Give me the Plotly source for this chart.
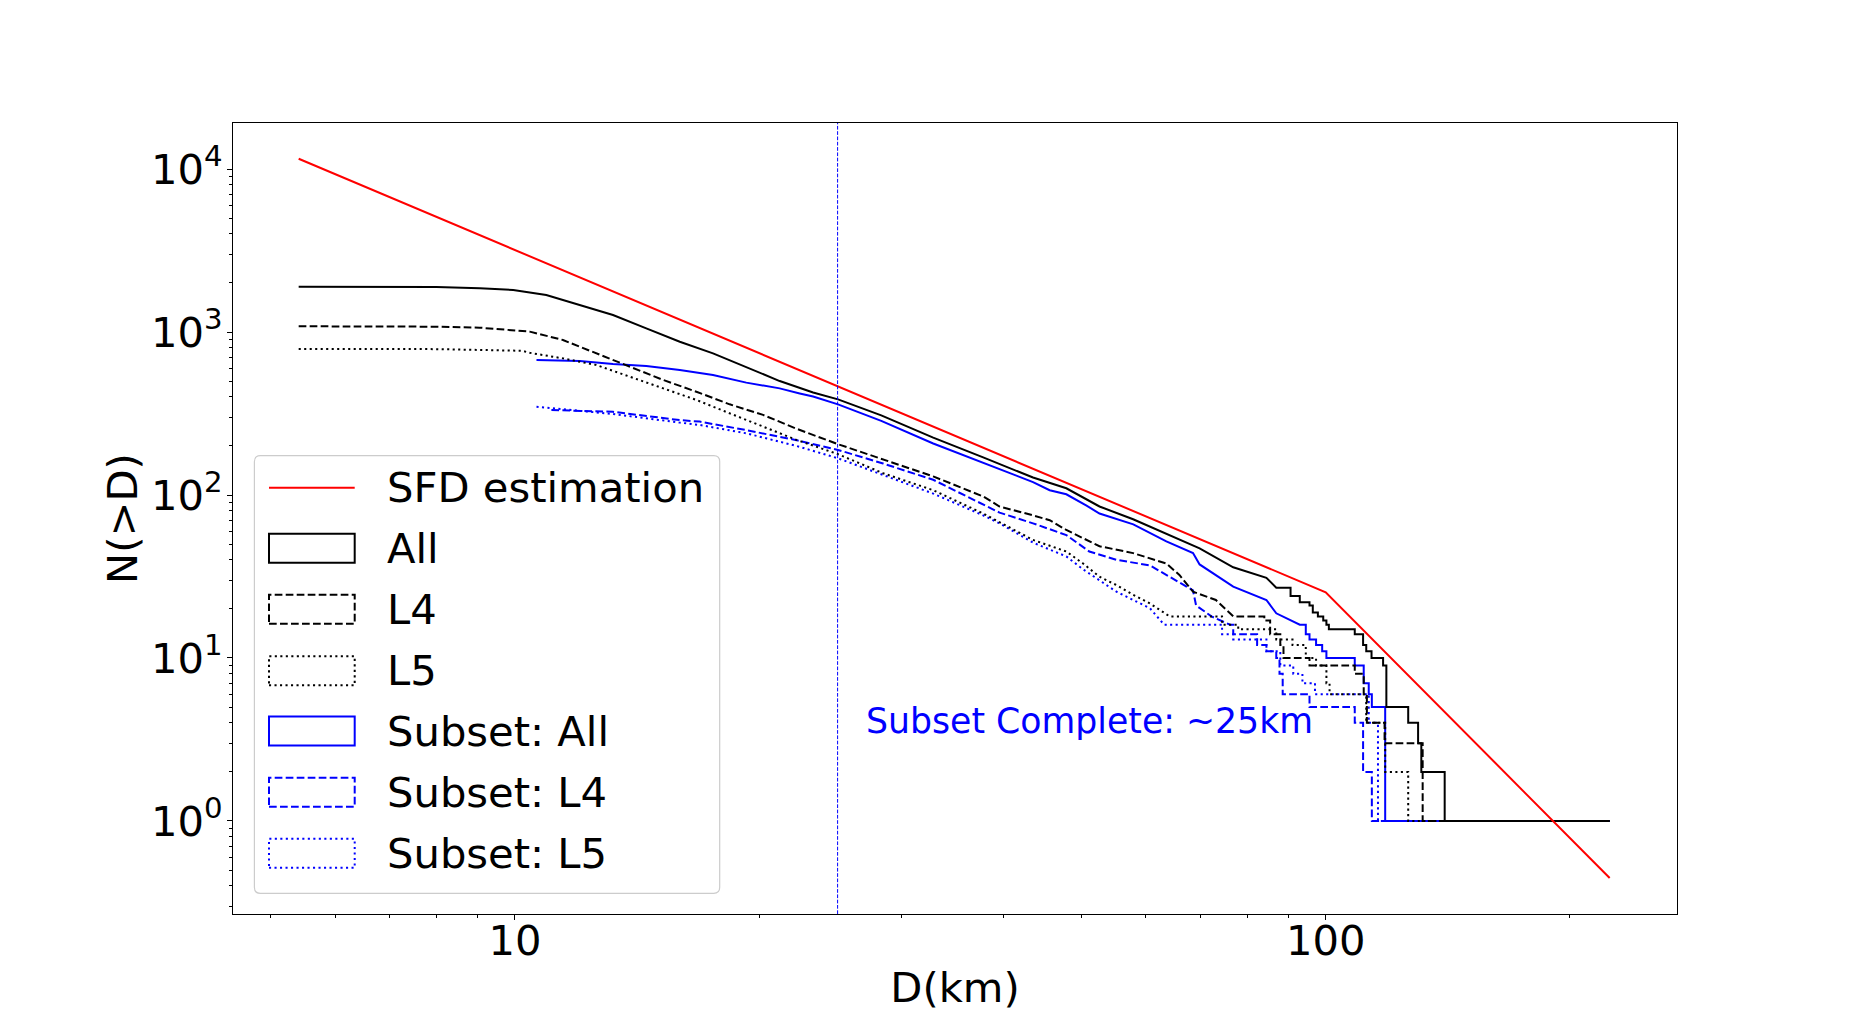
import numpy as np
import plotly.graph_objects as go

# SFD estimation (broken power law)
sfd_d = [5.41, 100, 224]
sfd_n = [11560, 25.3, 0.447]

# cumulative counts N(>D), step corners
all_d = [5.41, 8.0, 9.05, 9.95, 10.93, 12.02, 13.21, 14.52, 15.97, 17.55, 19.29, 21.21, 23.32,
         25.03, 28.3, 32.8, 37.8, 43.55, 47.87, 52.6, 57.87, 63.6, 69.9, 76.9, 84.5, 86.9,
         90.5, 90.5, 92.9, 92.9, 95.5, 95.5, 96.4, 96.4, 97.8, 97.8, 99.3, 99.3, 100.2, 100.2,
         100.9, 100.9, 108.6, 108.6, 111.2, 111.2, 112.2, 112.2, 113.9, 113.9, 117.7, 117.7,
         118.8, 118.8, 126.4, 126.4, 130, 130, 131.2, 131.2, 140.2, 140.2, 224]
all_n = [1898, 1890, 1853, 1811, 1687, 1464, 1272, 1053, 872, 740, 608, 500, 425,
         386, 308, 225, 170, 128, 110, 85, 71, 58, 47, 36, 31, 27,
         27, 24, 24, 22, 22, 21, 21, 19, 19, 18, 18, 17, 17, 16,
         16, 15, 15, 14, 14, 12, 12, 11, 11, 10, 10, 9,
         9, 5, 5, 4, 4, 3, 3, 2, 2, 1, 1]

l4_d = [5.41, 8.0, 9.05, 10.43, 11.46, 12.6, 13.85, 15.23, 16.74, 18.4, 20.23, 22.24, 25.03,
        28.45, 32.8, 37.8, 39.6, 43.55, 45.66, 47.87, 52.6, 57.87, 63.6, 66.0, 68.6, 73.2,
        76.9, 84.0, 84.0, 85.4, 85.4, 87.9, 87.9, 88.7, 88.7, 95.5, 95.5, 108.6, 108.6,
        111.4, 111.4, 112.4, 112.4, 118.2, 118.2, 131.7, 131.7, 224]
l4_n = [1084, 1078, 1063, 1005, 893, 740, 613, 508, 430, 360, 310, 255, 205,
        165, 130, 98, 85, 75, 70, 61, 48.5, 44, 38, 32.3, 25.5, 22.7,
        18, 18, 17, 17, 14, 14, 12, 12, 10, 10, 9, 9, 8,
        8, 6, 6, 4, 4, 3, 3, 1, 1]

l5_d = [5.41, 8.0, 9.05, 10.2, 10.43, 11.46, 12.6, 13.85, 15.23, 16.74, 18.4, 20.23, 22.24,
        25.03, 28.45, 32.8, 37.8, 43.55, 47.87, 50.2, 52.6, 55.2, 57.87, 60.7, 64.2,
        74.5, 74.5, 78.0, 78.0, 86.9, 86.9, 91.0, 91.0, 94.5, 94.5, 97.3, 97.3, 100.2, 100.2,
        101.1, 101.1, 112.2, 112.2, 118.4, 118.4, 126.4, 126.4, 224]
l5_n = [787, 785, 776, 767, 745, 689, 627, 532, 451, 383, 317, 263, 218,
        178, 136, 107, 77, 53, 45, 38, 31.5, 28, 24.4, 21.6, 18,
        18, 16, 16, 15, 15, 13, 13, 12, 12, 10, 10, 9, 9, 7,
        7, 6, 6, 4, 4, 2, 2, 1, 1]

sub_all_d = [10.63, 12.02, 13.21, 14.52, 15.97, 16.9, 17.55, 19.29, 21.21, 22.45, 23.32, 25.03,
             28.3, 32.8, 37.8, 43.55, 45.66, 47.87, 50.7, 52.6, 57.9, 63.6, 68.6, 69.9, 76.9,
             84.5, 86.9, 92.9, 94.5, 94.5, 95.5, 95.5, 97.3, 97.3, 99.0, 99.0, 100.2, 100.2,
             108.6, 108.6, 111.4, 111.4, 113.0, 113.0, 114.0, 114.0, 118.4, 118.4, 224]
sub_all_n = [673, 664, 636, 618, 585, 558, 545, 489, 451, 420, 402, 360,
             285, 207, 158, 120, 107, 101, 86, 77, 66, 52, 44, 37.5, 27.4,
             22.7, 18.8, 16, 16, 14, 14, 13, 13, 12, 12, 11, 11, 10,
             10, 9, 9, 7, 7, 6, 6, 5, 5, 1, 1]

sub_l4_d = [11.09, 13.21, 15.97, 16.9, 19.29, 22.24, 25.03, 28.45, 32.8, 37.8, 39.6, 43.55,
            47.87, 51.1, 55.2, 60.7, 65.2, 68.6, 69.2, 72.3, 76.2,
            76.9, 76.9, 82.3, 82.3, 84.5, 84.5, 86.9, 86.9, 87.7, 87.7, 88.5, 88.5, 95.5, 95.5,
            108.6, 108.6, 111.2, 111.2, 114.0, 114.0, 224]
sub_l4_n = [332, 324, 288, 282, 250, 217, 189, 156, 124, 88, 78, 67,
            56.8, 45, 40, 37, 30, 26, 21, 18, 16,
            16, 14, 14, 12, 12, 11, 11, 10, 10, 8, 8, 6, 6, 5,
            5, 4, 4, 2, 2, 1, 1]

sub_l5_d = [10.63, 13.21, 15.97, 16.9, 19.29, 22.24, 25.03, 28.45, 32.8, 37.8, 39.6, 43.55,
            47.87, 50.2, 52.6, 55.2, 57.87, 60.7, 63.2,
            74.5, 74.5, 76.9, 76.9, 84.5, 84.5, 87.9, 87.9, 91.2, 91.2, 93.6, 93.6, 97.0, 97.0,
            113.0, 113.0, 116.0, 116.0, 224]
sub_l5_n = [348, 314, 278, 269, 239, 200, 168, 133, 102, 75, 67, 51,
            42, 35, 30, 25.5, 22.7, 20.2, 16,
            16, 14, 14, 13, 13, 11, 11, 9, 9, 8, 8, 7, 7, 6,
            6, 4, 4, 1, 1]

complete_d = 25
complete_label = "Subset Complete: ~25km"

FONT = "DejaVu Sans"
BIG = 41.7
DASH = "7.7px,3.3px"
DOT = "2.1px,3.4px"

# legend order
series = [
    ("All", all_d, all_n, "black", "solid"),
    ("L4", l4_d, l4_n, "black", DASH),
    ("L5", l5_d, l5_n, "black", DOT),
    ("Subset: All", sub_all_d, sub_all_n, "blue", "solid"),
    ("Subset: L4", sub_l4_d, sub_l4_n, "blue", DASH),
    ("Subset: L5", sub_l5_d, sub_l5_n, "blue", DOT),
]

fig = go.Figure()
# draw subsets first so the full-sample curves sit on top
for name, d, n, col, dash in series[::-1]:
    fig.add_trace(go.Scatter(x=d, y=n, mode="lines", name=name,
                             line=dict(color=col, width=2, dash=dash), showlegend=False))
fig.add_trace(go.Scatter(x=sfd_d, y=sfd_n, mode="lines", name="SFD estimation",
                         line=dict(color="red", width=2), showlegend=False))

# completeness limit
fig.add_shape(type="line", xref="x", yref="paper", x0=complete_d, x1=complete_d, y0=0, y1=1,
              line=dict(color="blue", width=1, dash="3.7px,1.6px"))
fig.add_annotation(x=np.log10(97), y=np.log10(4.1), xref="x", yref="y", text=complete_label,
                   showarrow=False, xanchor="right", yanchor="middle",
                   font=dict(family=FONT, size=34.7, color="blue"))

# hand-drawn legend, matplotlib style (pixel geometry -> paper coords)
L, T, W, H = 233.3, 123.0, 1444.0, 791.0
def px(x):
    return (x - L) / W
def py(y):
    return (T + H - y) / H

bx0, bx1, by0, by1 = px(254.7), px(720), py(893.3), py(455.7)
rx, ry = 6 / W, 6 / H
path = (f"M{bx0+rx},{by1} L{bx1-rx},{by1} Q{bx1},{by1} {bx1},{by1-ry} "
        f"L{bx1},{by0+ry} Q{bx1},{by0} {bx1-rx},{by0} L{bx0+rx},{by0} "
        f"Q{bx0},{by0} {bx0},{by0+ry} L{bx0},{by1-ry} Q{bx0},{by1} {bx0+rx},{by1} Z")
fig.add_shape(type="path", path=path, xref="paper", yref="paper",
              fillcolor="rgba(255,255,255,0.8)", line=dict(color="#cccccc", width=1.2))

rows = [487.7, 548.3, 609.3, 670.7, 731.0, 792.3, 853.3]
hx0, hx1, tx = px(269.3), px(355), px(384.8)
fig.add_shape(type="line", xref="paper", yref="paper", x0=hx0, x1=hx1, y0=py(rows[0]), y1=py(rows[0]),
              line=dict(color="red", width=2))
fig.add_annotation(x=tx, y=py(rows[0]), xref="paper", yref="paper", text="SFD estimation",
                   showarrow=False, xanchor="left", yanchor="middle",
                   font=dict(family=FONT, size=BIG, color="black"))
for (name, d, n, col, dash), r in zip(series, rows[1:]):
    fig.add_shape(type="rect", xref="paper", yref="paper", x0=hx0, x1=hx1,
                  y0=py(r + 14.5), y1=py(r - 14.5), line=dict(color=col, width=2, dash=dash))
    fig.add_annotation(x=tx, y=py(r), xref="paper", yref="paper", text=name,
                       showarrow=False, xanchor="left", yanchor="middle",
                       font=dict(family=FONT, size=BIG, color="black"))

# the page body adds an 8px offset, so the figure is 8px smaller and shifted back
OFF = 8
fig.update_layout(
    width=1863 - OFF, height=1027 - OFF,
    margin=dict(l=L - OFF, r=1863 - (L + W), t=T - OFF, b=1027 - (T + H), pad=0),
    paper_bgcolor="white", plot_bgcolor="white",
    template="none",
    font=dict(family=FONT, size=BIG, color="black"),
    showlegend=False,
)
fig.update_xaxes(
    type="log", range=[0.6522, 2.4333],
    tickvals=[10, 100], ticktext=["10", "100"],
    ticks="outside", ticklen=5, tickwidth=1.1, tickcolor="black",
    ticklabelstandoff=-15,
    minor=dict(ticks="outside", ticklen=3, tickwidth=0.8, tickcolor="black", dtick="D1", showgrid=False),
    showline=True, mirror=True, linecolor="black", linewidth=1.1,
    showgrid=False, zeroline=False,
    title=dict(text="D(km)", standoff=8, font=dict(family=FONT, size=BIG)),
    automargin=False,
)
fig.update_yaxes(
    type="log", range=[-0.5706, 4.2822],
    tickvals=[1, 10, 100, 1000, 10000],
    ticktext=["10<sup>0</sup>", "10<sup>1</sup>", "10<sup>2</sup>", "10<sup>3</sup>", "10<sup>4</sup>"],
    ticks="outside", ticklen=5, tickwidth=1.1, tickcolor="black",
    ticklabelstandoff=-4,
    minor=dict(ticks="outside", ticklen=3, tickwidth=0.8, tickcolor="black", dtick="D1", showgrid=False),
    showline=True, mirror=True, linecolor="black", linewidth=1.1,
    showgrid=False, zeroline=False,
    title=dict(text="N(>D)", standoff=0, font=dict(family=FONT, size=BIG)),
    automargin=False,
)

fig.write_html("out.html")
